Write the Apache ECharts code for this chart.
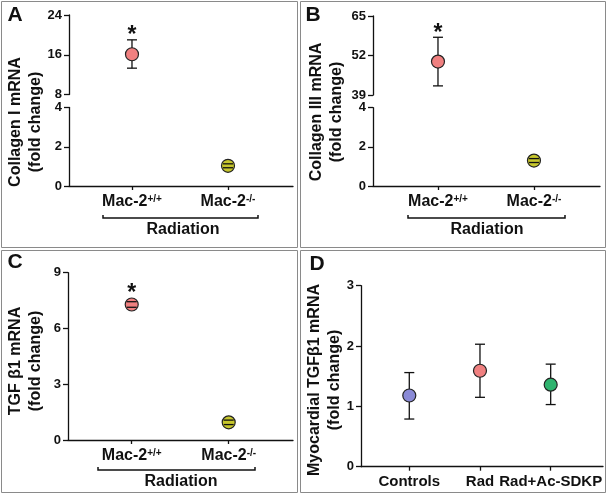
<!DOCTYPE html>
<html>
<head>
<meta charset="utf-8">
<script src="https://cdn.jsdelivr.net/npm/echarts@6/dist/echarts.min.js"></script>
<style>
  html, body { margin: 0; padding: 0; background: #fff; }
  #chart { width: 608px; height: 494px; }
</style>
</head>
<body>
<div id="chart"></div>
<script>
// categories
const macBase = ["Mac-2", "Mac-2"];
const macSup = ["+/+", "-/-"];
const macColors = ["#f08080", "#c6c62c"];
const dCats = ["Controls", "Rad", "Rad+Ac-SDKP"];
const dColors = ["#8a8ad6", "#f08080", "#2fb36e"];

// A: Collagen I
const aMean = [16.1, 1.03];
const aLow = [13.3, 0.93];
const aHigh = [19.0, 1.13];
const aStar = [true, false];
const aTicksUp = [8, 16, 24];
const aTicksLow = [0, 2, 4];

// B: Collagen III
const bMean = [50.0, 1.3];
const bLow = [42.0, 1.2];
const bHigh = [58.0, 1.4];
const bStar = [true, false];
const bTicksUp = [39, 52, 65];
const bTicksLow = [0, 2, 4];

// C: TGF b1
const cMean = [7.29, 0.95];
const cLow = [7.14, 0.83];
const cHigh = [7.44, 1.07];
const cStar = [true, false];
const cTicks = [0, 3, 6, 9];

// D: myocardial TGF b1
const dMean = [1.18, 1.59, 1.36];
const dLow = [0.79, 1.15, 1.03];
const dHigh = [1.56, 2.03, 1.70];
const dStar = [false, false, false];
const dTicks = [0, 1, 2, 3];

const ink = "#111";
const font = '"Liberation Sans", Arial, sans-serif';
const dotSize = 13;

const option = {
  animation: false,
  backgroundColor: "#fff",
  textStyle: { fontFamily: font },
  grid: [], xAxis: [], yAxis: [], series: [], graphic: []
};

function addAxes(box, xMin, xMax, ticks, showX, base, sup, catSize) {
  const i = option.grid.length;
  const idx = base.map((b, k) => k);
  option.grid.push({ left: box[0], top: box[1], width: box[2], height: box[3] });
  option.xAxis.push({
    gridIndex: i, type: "value", min: xMin, max: xMax, show: showX,
    splitLine: { show: false },
    axisLine: { onZero: false, lineStyle: { color: ink, width: 1.3 } },
    axisTick: { customValues: idx, length: 4, lineStyle: { color: ink, width: 1.3 } },
    axisLabel: {
      customValues: idx, margin: 8,
      formatter: (v) => {
        const k = Math.round(v);
        return sup ? "{m|" + base[k] + "}{s|" + sup[k] + "}" : "{m|" + base[k] + "}";
      },
      rich: {
        m: { fontSize: catSize, fontWeight: "bold", color: ink, fontFamily: font },
        s: { fontSize: 10, fontWeight: "bold", color: ink, fontFamily: font, verticalAlign: "top" }
      }
    }
  });
  option.yAxis.push({
    gridIndex: i, type: "value",
    min: ticks[0], max: ticks[ticks.length - 1], interval: ticks[1] - ticks[0],
    splitLine: { show: false },
    axisLine: { show: true, onZero: false, lineStyle: { color: ink, width: 1.3 } },
    axisTick: { show: true, length: 5, lineStyle: { color: ink, width: 1.3 } },
    axisLabel: { fontSize: 13, fontWeight: "bold", color: ink, margin: 7 }
  });
  return i;
}

function addPoints(i, mean, low, high, colors, stars, keep) {
  const rows = mean.map((m, k) => [k, m, low[k], high[k], stars[k] ? 1 : 0])
    .filter((r) => keep(r[1]));
  option.series.push({
    type: "custom", xAxisIndex: i, yAxisIndex: i, z: 2, silent: true,
    data: rows,
    renderItem: (params, api) => {
      const top = api.coord([api.value(0), api.value(3)]);
      const bot = api.coord([api.value(0), api.value(2)]);
      return { type: "line", shape: { x1: top[0], y1: top[1], x2: bot[0], y2: bot[1] },
        style: { stroke: ink, lineWidth: 1.3 } };
    }
  });
  option.series.push({
    type: "scatter", xAxisIndex: i, yAxisIndex: i, z: 3, silent: true,
    symbol: "circle", symbolSize: dotSize,
    itemStyle: { borderColor: "#222", borderWidth: 1.2, opacity: 1 },
    data: rows.map((r) => ({ value: [r[0], r[1]], itemStyle: { color: colors[r[0]] } }))
  });
  option.series.push({
    type: "custom", xAxisIndex: i, yAxisIndex: i, z: 4, silent: true,
    data: rows,
    renderItem: (params, api) => {
      const top = api.coord([api.value(0), api.value(3)]);
      const bot = api.coord([api.value(0), api.value(2)]);
      const mid = api.coord([api.value(0), api.value(1)]);
      const w = 5;
      const kids = [
        { type: "line", shape: { x1: top[0] - w, y1: top[1], x2: top[0] + w, y2: top[1] }, style: { stroke: ink, lineWidth: 1.3 } },
        { type: "line", shape: { x1: bot[0] - w, y1: bot[1], x2: bot[0] + w, y2: bot[1] }, style: { stroke: ink, lineWidth: 1.3 } }
      ];
      if (api.value(4)) {
        const y = Math.min(top[1], mid[1] - dotSize / 2) - 4;
        kids.push({ type: "text", x: top[0], y: y,
          style: { text: "*", fill: ink, font: "bold 23px " + font, textAlign: "center", textVerticalAlign: "middle" } });
      }
      return { type: "group", children: kids };
    }
  });
}

// panel A (broken axis: two grids)
let g = addAxes([69, 15, 224, 79.5], -0.656, 1.677, aTicksUp, false, macBase, macSup, 16);
addPoints(g, aMean, aLow, aHigh, macColors, aStar, (v) => v > 4);
g = addAxes([69, 107.5, 224, 78.5], -0.656, 1.677, aTicksLow, true, macBase, macSup, 16);
addPoints(g, aMean, aLow, aHigh, macColors, aStar, (v) => v <= 4);

// panel B
g = addAxes([373, 16, 227, 79], -0.677, 1.688, bTicksUp, false, macBase, macSup, 16);
addPoints(g, bMean, bLow, bHigh, macColors, bStar, (v) => v > 4);
g = addAxes([373, 107.7, 227, 78.3], -0.677, 1.688, bTicksLow, true, macBase, macSup, 16);
addPoints(g, bMean, bLow, bHigh, macColors, bStar, (v) => v <= 4);

// panel C
g = addAxes([68, 272.7, 225, 167.3], -0.657, 1.663, cTicks, true, macBase, macSup, 16);
addPoints(g, cMean, cLow, cHigh, macColors, cStar, () => true);

// panel D
g = addAxes([361, 285.7, 242, 181], -0.683, 2.74, dTicks, true, dCats, null, 15);
addPoints(g, dMean, dLow, dHigh, dColors, dStar, () => true);

// frames, letters, axis names, brackets
function frame(x, y, w, h) {
  option.graphic.push({ type: "rect", shape: { x: x, y: y, width: w, height: h },
    style: { fill: "none", stroke: "#8a8a8a", lineWidth: 1 }, silent: true });
}
function label(text, x, y, size, rot) {
  option.graphic.push({ type: "text", x: x, y: y, rotation: rot || 0, silent: true,
    style: { text: text, fill: ink, font: "bold " + size + "px " + font,
      textAlign: "center", textVerticalAlign: "middle", lineHeight: 20 } });
}
function bracket(x1, x2, y, tx, ty) {
  option.graphic.push({ type: "polyline", silent: true,
    shape: { points: [[x1, y - 3], [x1, y], [x2, y], [x2, y - 3]] },
    style: { stroke: ink, lineWidth: 1.5, fill: "none" } });
  label("Radiation", tx, ty, 16);
}

frame(1.5, 1.5, 296, 246);
frame(300.5, 1.5, 305, 246);
frame(1.5, 250.5, 296, 242);
frame(300.5, 250.5, 305, 242);

label("A", 15, 15, 21);
label("B", 313, 15, 21);
label("C", 15, 262, 21);
label("D", 317, 264, 21);

label("Collagen I mRNA\n(fold change)", 26, 122, 16, Math.PI / 2);
label("Collagen III mRNA\n(fold change)", 327, 112, 16, Math.PI / 2);
label("TGF β1 mRNA\n(fold change)", 26, 361, 16, Math.PI / 2);
label("Myocardial TGFβ1 mRNA\n(fold change)", 325, 380, 16, Math.PI / 2);

bracket(103, 258, 218, 183, 230);
bracket(408, 565, 218, 487, 230);
bracket(98, 255, 470, 181, 482);

const chart = echarts.init(document.getElementById("chart"));
chart.setOption(option);
</script>
</body>
</html>
